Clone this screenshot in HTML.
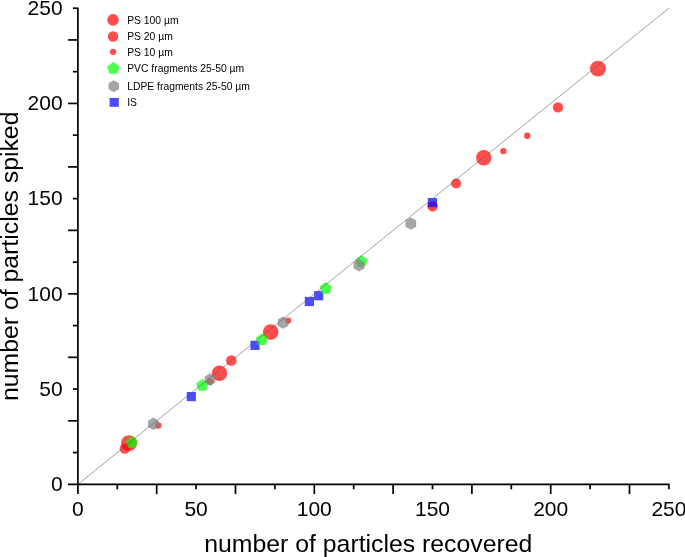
<!DOCTYPE html><html><head><meta charset="utf-8"><style>html,body{margin:0;padding:0;background:#fff;}svg{display:block;will-change:transform;}text{font-family:"Liberation Sans",sans-serif;fill:#000;}</style></head><body>
<svg width="685" height="557" viewBox="0 0 685 557">
<circle cx="129" cy="443.2" r="8" fill="rgba(255,0,0,0.7)"/>
<circle cx="124.8" cy="448.6" r="5.2" fill="rgba(255,0,0,0.7)"/>
<circle cx="158.3" cy="425.5" r="3.2" fill="rgba(255,0,0,0.7)"/>
<circle cx="210.1" cy="381.7" r="3.2" fill="rgba(255,0,0,0.7)"/>
<circle cx="219.5" cy="373.3" r="7.7" fill="rgba(255,0,0,0.7)"/>
<circle cx="231.3" cy="360.5" r="5.3" fill="rgba(255,0,0,0.7)"/>
<circle cx="270.7" cy="332.1" r="7.8" fill="rgba(255,0,0,0.7)"/>
<circle cx="288.2" cy="320.7" r="3.1" fill="rgba(255,0,0,0.7)"/>
<circle cx="432.6" cy="206.3" r="5.3" fill="rgba(255,0,0,0.7)"/>
<circle cx="456.1" cy="183.5" r="5.1" fill="rgba(255,0,0,0.7)"/>
<circle cx="483.8" cy="157.7" r="7.7" fill="rgba(255,0,0,0.7)"/>
<circle cx="503.4" cy="151.1" r="3.2" fill="rgba(255,0,0,0.7)"/>
<circle cx="527.2" cy="135.8" r="3.2" fill="rgba(255,0,0,0.7)"/>
<circle cx="558" cy="107.4" r="5.2" fill="rgba(255,0,0,0.7)"/>
<circle cx="597.9" cy="68.7" r="7.9" fill="rgba(255,0,0,0.7)"/>
<rect x="186.70" y="392.00" width="9.2" height="9.2" fill="rgba(0,0,255,0.7)"/>
<rect x="250.40" y="340.80" width="9.2" height="9.2" fill="rgba(0,0,255,0.7)"/>
<rect x="304.80" y="296.90" width="9.2" height="9.2" fill="rgba(0,0,255,0.7)"/>
<rect x="314.10" y="291.10" width="9.2" height="9.2" fill="rgba(0,0,255,0.7)"/>
<rect x="427.80" y="198.00" width="9.2" height="9.2" fill="rgba(0,0,255,0.7)"/>
<polygon points="132.00,436.10 138.18,440.59 135.82,447.86 128.18,447.86 125.82,440.59" fill="rgba(0,255,0,0.7)"/>
<polygon points="202.30,379.10 208.48,383.59 206.12,390.86 198.48,390.86 196.12,383.59" fill="rgba(0,255,0,0.7)"/>
<polygon points="262.00,333.20 268.18,337.69 265.82,344.96 258.18,344.96 255.82,337.69" fill="rgba(0,255,0,0.7)"/>
<polygon points="325.80,282.00 331.98,286.49 329.62,293.76 321.98,293.76 319.62,286.49" fill="rgba(0,255,0,0.7)"/>
<polygon points="361.50,255.00 367.68,259.49 365.32,266.76 357.68,266.76 355.32,259.49" fill="rgba(0,255,0,0.7)"/>
<polygon points="153.40,417.60 158.77,420.70 158.77,426.90 153.40,430.00 148.03,426.90 148.03,420.70" fill="rgba(128,128,128,0.7)"/>
<polygon points="210.00,373.30 215.37,376.40 215.37,382.60 210.00,385.70 204.63,382.60 204.63,376.40" fill="rgba(128,128,128,0.7)"/>
<polygon points="283.10,316.40 288.47,319.50 288.47,325.70 283.10,328.80 277.73,325.70 277.73,319.50" fill="rgba(128,128,128,0.7)"/>
<polygon points="359.00,259.10 364.37,262.20 364.37,268.40 359.00,271.50 353.63,268.40 353.63,262.20" fill="rgba(128,128,128,0.7)"/>
<polygon points="410.80,217.40 416.17,220.50 416.17,226.70 410.80,229.80 405.43,226.70 405.43,220.50" fill="rgba(128,128,128,0.7)"/>
<line x1="77.9" y1="484.3" x2="668.9" y2="8.2" stroke="#555" stroke-width="0.55"/>
<line x1="68" y1="484.3" x2="669.40" y2="484.3" stroke="#000" stroke-width="1.7"/>
<line x1="77.9" y1="7.70" x2="77.9" y2="494" stroke="#000" stroke-width="1.7"/>
<line x1="117.30" y1="484.3" x2="117.30" y2="489.30" stroke="#000" stroke-width="1.7"/>
<line x1="77.9" y1="452.56" x2="72.90" y2="452.56" stroke="#000" stroke-width="1.7"/>
<line x1="156.70" y1="484.3" x2="156.70" y2="494.10" stroke="#000" stroke-width="1.7"/>
<line x1="77.9" y1="420.82" x2="68.10" y2="420.82" stroke="#000" stroke-width="1.7"/>
<line x1="196.10" y1="484.3" x2="196.10" y2="489.30" stroke="#000" stroke-width="1.7"/>
<line x1="77.9" y1="389.08" x2="72.90" y2="389.08" stroke="#000" stroke-width="1.7"/>
<line x1="235.50" y1="484.3" x2="235.50" y2="494.10" stroke="#000" stroke-width="1.7"/>
<line x1="77.9" y1="357.34" x2="68.10" y2="357.34" stroke="#000" stroke-width="1.7"/>
<line x1="274.90" y1="484.3" x2="274.90" y2="489.30" stroke="#000" stroke-width="1.7"/>
<line x1="77.9" y1="325.60" x2="72.90" y2="325.60" stroke="#000" stroke-width="1.7"/>
<line x1="314.30" y1="484.3" x2="314.30" y2="494.10" stroke="#000" stroke-width="1.7"/>
<line x1="77.9" y1="293.86" x2="68.10" y2="293.86" stroke="#000" stroke-width="1.7"/>
<line x1="353.70" y1="484.3" x2="353.70" y2="489.30" stroke="#000" stroke-width="1.7"/>
<line x1="77.9" y1="262.12" x2="72.90" y2="262.12" stroke="#000" stroke-width="1.7"/>
<line x1="393.10" y1="484.3" x2="393.10" y2="494.10" stroke="#000" stroke-width="1.7"/>
<line x1="77.9" y1="230.38" x2="68.10" y2="230.38" stroke="#000" stroke-width="1.7"/>
<line x1="432.50" y1="484.3" x2="432.50" y2="489.30" stroke="#000" stroke-width="1.7"/>
<line x1="77.9" y1="198.64" x2="72.90" y2="198.64" stroke="#000" stroke-width="1.7"/>
<line x1="471.90" y1="484.3" x2="471.90" y2="494.10" stroke="#000" stroke-width="1.7"/>
<line x1="77.9" y1="166.90" x2="68.10" y2="166.90" stroke="#000" stroke-width="1.7"/>
<line x1="511.30" y1="484.3" x2="511.30" y2="489.30" stroke="#000" stroke-width="1.7"/>
<line x1="77.9" y1="135.16" x2="72.90" y2="135.16" stroke="#000" stroke-width="1.7"/>
<line x1="550.70" y1="484.3" x2="550.70" y2="494.10" stroke="#000" stroke-width="1.7"/>
<line x1="77.9" y1="103.42" x2="68.10" y2="103.42" stroke="#000" stroke-width="1.7"/>
<line x1="590.10" y1="484.3" x2="590.10" y2="489.30" stroke="#000" stroke-width="1.7"/>
<line x1="77.9" y1="71.68" x2="72.90" y2="71.68" stroke="#000" stroke-width="1.7"/>
<line x1="629.50" y1="484.3" x2="629.50" y2="494.10" stroke="#000" stroke-width="1.7"/>
<line x1="77.9" y1="39.94" x2="68.10" y2="39.94" stroke="#000" stroke-width="1.7"/>
<line x1="668.90" y1="484.3" x2="668.90" y2="489.30" stroke="#000" stroke-width="1.7"/>
<line x1="77.9" y1="8.20" x2="72.90" y2="8.20" stroke="#000" stroke-width="1.7"/>
<text x="77.90" y="516.2" font-size="21" text-anchor="middle">0</text>
<text x="62.6" y="491.10" font-size="21" text-anchor="end">0</text>
<text x="196.10" y="516.2" font-size="21" text-anchor="middle">50</text>
<text x="62.6" y="395.88" font-size="21" text-anchor="end">50</text>
<text x="314.30" y="516.2" font-size="21" text-anchor="middle">100</text>
<text x="62.6" y="300.66" font-size="21" text-anchor="end">100</text>
<text x="432.50" y="516.2" font-size="21" text-anchor="middle">150</text>
<text x="62.6" y="205.44" font-size="21" text-anchor="end">150</text>
<text x="550.70" y="516.2" font-size="21" text-anchor="middle">200</text>
<text x="62.6" y="110.22" font-size="21" text-anchor="end">200</text>
<text x="668.90" y="516.2" font-size="21" text-anchor="middle">250</text>
<text x="62.6" y="15.00" font-size="21" text-anchor="end">250</text>
<text x="368.3" y="551.9" font-size="24.8" text-anchor="middle">number of particles recovered</text>
<text transform="translate(17.9,256.3) rotate(-90)" x="0" y="0" font-size="24.8" text-anchor="middle">number of particles spiked</text>
<circle cx="113" cy="19.9" r="5.8" fill="rgba(255,0,0,0.7)"/>
<circle cx="113" cy="36.5" r="5.15" fill="rgba(255,0,0,0.7)"/>
<circle cx="113.1" cy="51.8" r="3.15" fill="rgba(255,0,0,0.7)"/>
<polygon points="113.40,62.00 119.58,66.49 117.22,73.76 109.58,73.76 107.22,66.49" fill="rgba(0,255,0,0.7)"/>
<polygon points="113.80,80.20 119.00,83.20 119.00,89.20 113.80,92.20 108.60,89.20 108.60,83.20" fill="rgba(128,128,128,0.7)"/>
<rect x="109.60" y="98.00" width="9.2" height="8.8" fill="rgba(0,0,255,0.7)"/>
<text x="127.2" y="23.7" font-size="10.35">PS 100 µm</text>
<text x="127.2" y="39.6" font-size="10.35">PS 20 µm</text>
<text x="127.2" y="55.7" font-size="10.35">PS 10 µm</text>
<text x="127.2" y="72" font-size="10.35">PVC fragments 25-50 µm</text>
<text x="127.2" y="89.5" font-size="10.35">LDPE fragments 25-50 µm</text>
<text x="127.2" y="105.6" font-size="10.35">IS</text>
</svg></body></html>
